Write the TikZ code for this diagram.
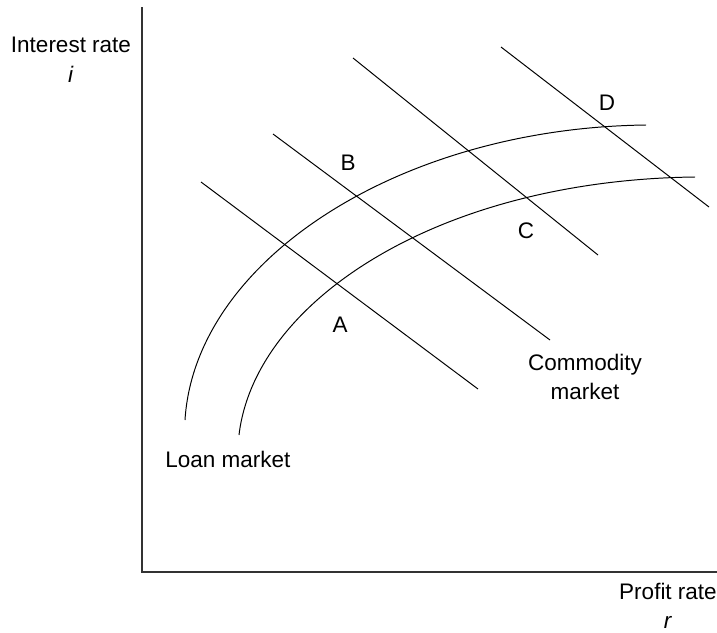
\documentclass[tikz,border=0pt]{standalone}
\usepackage{fontspec}
\setmainfont{Liberation Sans}
\begin{document}
\begin{tikzpicture}[x=0.025cm,y=-0.025cm,
    every node/.style={font=\fontsize{16}{21}\selectfont},
    mkt/.style={line width=0.7pt},
    axis/.style={line width=1pt, black!80}]

\useasboundingbox (0,0) rectangle (717,632);

% axes
\draw[axis] (142,7) -- (142,572) -- (717,572);
\node[align=center] (ilab) at (71,60) {Interest rate\\ \textit{i}};
\node[align=center, inner sep=0pt] (rlab) at (668,606) {Profit rate\\ \textit{r}};

% commodity market
\draw[mkt] (201,182) -- (478,389);
\draw[mkt] (273,134) -- (550,340);
\draw[mkt] (353,58) -- (598,255);
\draw[mkt] (501,47) -- (709,207);
\node[align=center] (cm) at (585,377) {Commodity\\ market};

% loan market
\draw[mkt] (185,420) .. controls (195,260) and (400,128) .. (646,125);
\draw[mkt] (239,435) .. controls (255,300) and (440,180) .. (695,177);
\node (lm) at (228,459) {Loan market};

% points
\node (A) at (340,325) {A};
\node (B) at (348,163) {B};
\node (C) at (526,231) {C};
\node (D) at (607,103) {D};

\end{tikzpicture}
\end{document}
